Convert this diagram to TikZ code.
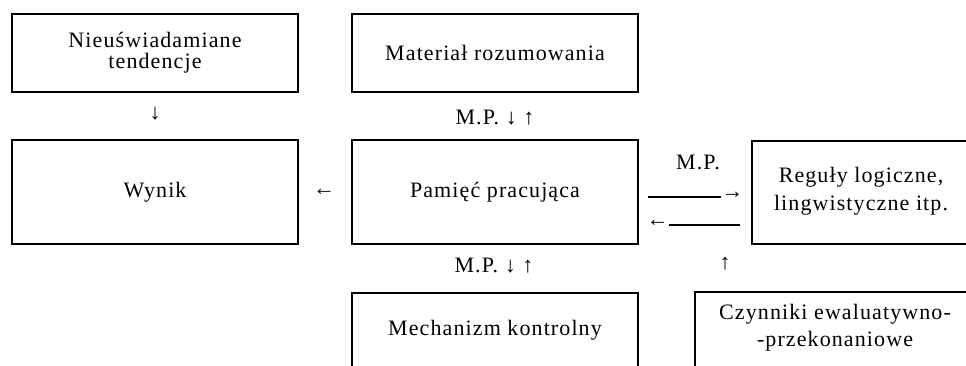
\documentclass[tikz,border=0pt]{standalone}
\usepackage{fontspec}
\setmainfont[LetterSpace=5]{Liberation Serif}
\begin{document}
\begin{tikzpicture}[x=0.75pt,y=-0.75pt,
  box/.style={draw,line width=1.5pt,inner sep=0pt},
  txt/.style={font=\fontsize{16.5}{16}\selectfont,align=center,inner sep=0pt},
  glyph/.style={font=\fontsize{16.5}{16}\selectfont,inner sep=0pt},
  conn/.style={line width=0.8pt}]
\useasboundingbox (0,0) rectangle (966,365);
% full boxes
\node[box,txt,minimum width=214.5pt,minimum height=58.5pt] (ntend) at (155,53) {Nieuświadamiane\\tendencje};
\node[box,txt,minimum width=214.5pt,minimum height=58.5pt] (mater) at (495,53) {Materiał rozumowania};
\node[box,txt,minimum width=214.5pt,minimum height=78pt] (wynik) at (155,192) {Wynik};
\node[box,txt,minimum width=214.5pt,minimum height=78pt] (pam) at (495,192) {Pamięć pracująca};
% open boxes (cut by page edge)
\draw[box] (975,141) -- (752,141) -- (752,244) -- (975,244);
\node[txt] (regul) at (861,191) {Reguły logiczne,\\[5pt]lingwistyczne itp.};
\draw[box] (352,375) -- (352,293) -- (638,293) -- (638,375);
\node[txt] (mech) at (495,330) {Mechanizm kontrolny};
\draw[box] (695,375) -- (695,292) -- (975,292);
\node[txt] (czyn) at (835,328) {Czynniki ewaluatywno-\\[4pt]-przekonaniowe};
% glyph arrows
\node[glyph] (a1) at (155,114) {↓};
\node[glyph] (mp1) at (495,118) {M.P. ↓ ↑};
\node[glyph] (a2) at (324,192) {←};
\node[glyph] (mp2) at (698,162) {M.P.};
\node[glyph,anchor=west] (ar) at (721,195) {→};
\node[glyph,anchor=east] (al) at (669,223) {←};
\coordinate (r0) at (648,197);
\coordinate (l1) at (740,225);
\draw[conn] (r0) -- (ar.west |- r0);
\draw[conn] (al.east |- l1) -- (l1);
\node[glyph] (a3) at (725,264) {↑};
\node[glyph] (mp3) at (494,266) {M.P. ↓ ↑};
\end{tikzpicture}
\end{document}
